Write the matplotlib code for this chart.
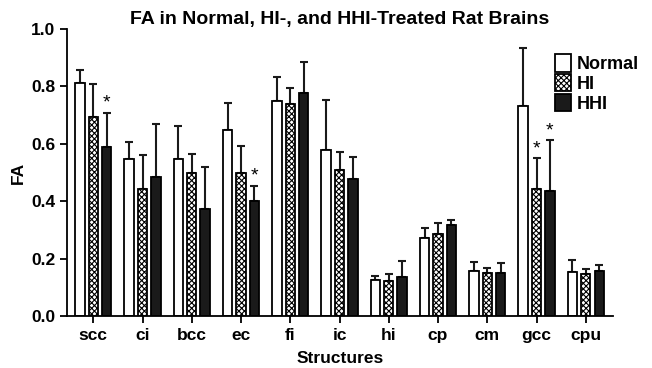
import numpy as np
import matplotlib
matplotlib.use("Agg")
import matplotlib.pyplot as plt

plt.rcParams['font.family'] = ['Liberation Sans', 'DejaVu Sans']
plt.rcParams['font.weight'] = 'bold'
plt.rcParams['hatch.linewidth'] = 0.8

structures = ["scc", "ci", "bcc", "ec", "fi", "ic", "hi", "cp", "cm", "gcc", "cpu"]
normal = [0.812, 0.547, 0.547, 0.649, 0.748, 0.578, 0.126, 0.272, 0.158, 0.732, 0.152]
normal_err = [0.045, 0.059, 0.116, 0.093, 0.085, 0.174, 0.014, 0.036, 0.029, 0.202, 0.043]
hi = [0.694, 0.442, 0.499, 0.498, 0.739, 0.510, 0.121, 0.285, 0.151, 0.443, 0.147]
hi_err = [0.116, 0.118, 0.066, 0.095, 0.055, 0.062, 0.026, 0.041, 0.017, 0.107, 0.018]
hhi = [0.590, 0.485, 0.372, 0.401, 0.779, 0.479, 0.135, 0.318, 0.150, 0.436, 0.157]
hhi_err = [0.119, 0.185, 0.148, 0.054, 0.105, 0.075, 0.056, 0.016, 0.034, 0.178, 0.022]
# significance markers: (group index, series index)
stars = [(0, 2), (3, 2), (9, 1), (9, 2)]

fig = plt.figure(figsize=(6.52, 3.68), dpi=100)
ax = fig.add_axes([0.103, 0.141, 0.837, 0.78])

x = np.arange(len(structures))
w = 0.19
off = 0.272
series = [(normal, normal_err, "Normal", "white", None),
          (hi, hi_err, "HI", "white", "xxxxxx"),
          (hhi, hhi_err, "HHI", "#1a1a1a", None)]

for i, (vals, errs, lab, fc, hatch) in enumerate(series):
    pos = x + (i - 1) * off
    ax.bar(pos, vals, w, color=fc, edgecolor="black", linewidth=1.3,
           hatch=hatch, label=lab, zorder=2)
    ax.errorbar(pos, vals, yerr=[np.zeros(len(vals)), errs], fmt="none",
                ecolor="#1a1a1a", elinewidth=1.5, capsize=3, capthick=1.5, zorder=1)

allv = [normal, hi, hhi]
alle = [normal_err, hi_err, hhi_err]
for g, s in stars:
    ax.text(x[g] + (s - 1) * off, allv[s][g] + alle[s][g] + 0.003, "*",
            ha="center", va="bottom", fontsize=14, fontweight="normal")

ax.set_xlim(-0.53, 10.55)
ax.set_ylim(0, 1.0)
ax.set_yticks([0.0, 0.2, 0.4, 0.6, 0.8, 1.0])
ax.set_yticklabels(["0.0", "0.2", "0.4", "0.6", "0.8", "1.0"])
ax.set_xticks(x)
ax.set_xticklabels(structures)
ax.tick_params(axis="both", labelsize=12.5, width=1.3, length=5)
for sp in ["top", "right"]:
    ax.spines[sp].set_visible(False)
for sp in ["left", "bottom"]:
    ax.spines[sp].set_linewidth(1.3)

ax.set_xlabel("Structures", fontsize=12.5, fontweight="bold", labelpad=6)
ax.set_ylabel("FA", fontsize=12.5, fontweight="bold")
ax.set_title("FA in Normal, HI-, and HHI-Treated Rat Brains", fontsize=14,
             fontweight="bold", pad=4)

ax.legend(loc="upper right", bbox_to_anchor=(1.06, 0.937), frameon=False,
          fontsize=13, handlelength=0.9, handleheight=1.1, handletextpad=0.3,
          labelspacing=0.05, borderaxespad=0)

fig.savefig("out.png", dpi=100)
